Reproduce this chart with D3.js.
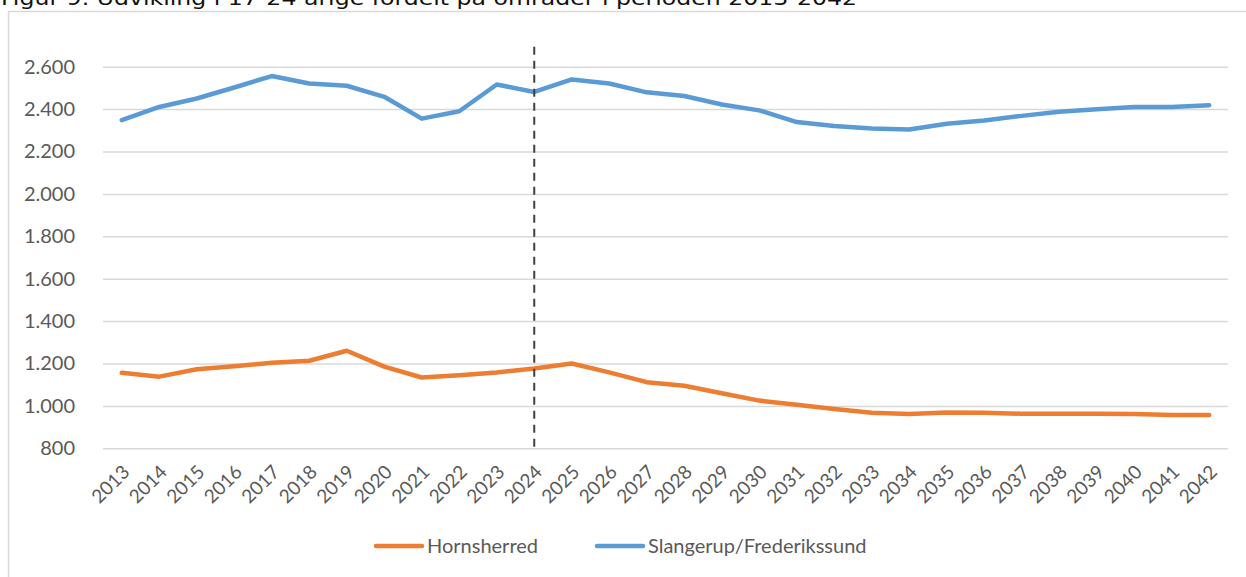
<!DOCTYPE html>
<html>
<head>
<meta charset="utf-8">
<script src="https://cdn.jsdelivr.net/npm/d3@7"></script>
<style>
  body { margin: 0; background: #fff; }
  svg { display: block; }
</style>
</head>
<body>
<svg id="chart" width="1246" height="577"></svg>
<script>
var years = ["2013","2014","2015","2016","2017","2018","2019","2020","2021","2022",
             "2023","2024","2025","2026","2027","2028","2029","2030","2031","2032",
             "2033","2034","2035","2036","2037","2038","2039","2040","2041","2042"]

var hornsherred = [1156,1138,1173,1187,1203,1213,1260,1185,1134,1145,
                   1158,1176,1200,1158,1112,1095,1060,1025,1005,985,
                   968,962,969,968,963,963,963,962,957,957]

var slangerup = [2348,2410,2450,2502,2556,2521,2510,2458,2355,2390,
                 2516,2481,2540,2521,2479,2462,2422,2394,2339,2320,
                 2308,2304,2331,2346,2368,2387,2399,2410,2410,2418]

var yTicks = [800,1000,1200,1400,1600,1800,2000,2200,2400,2600]
var seriesNames = ["Hornsherred", "Slangerup/Frederikssund"]
var seriesColors = ["#ed7d31", "#5b9bd5"]
var markerYear = "2024"
var title = "Figur 9. Udvikling i 17-24 årige fordelt på områder i perioden 2013-2042"

var series = [
    {name: seriesNames[0], color: seriesColors[0], values: hornsherred},
    {name: seriesNames[1], color: seriesColors[1], values: slangerup}
]

const plotLeft = 103, plotRight = 1228, plotTop = 66.7, plotBottom = 448.3
const labelFont = "Lato, 'Open Sans', sans-serif"

var svg = d3.select("#chart")

// outer frame of the chart object (runs off the page right and bottom)
svg.append("rect")
    .attr("x", 8.5).attr("y", 11.5)
    .attr("width", 1300).attr("height", 700)
    .attr("fill", "none")
    .attr("stroke", "#d9d9d9")
    .attr("stroke-width", 1.5)

// caption, cut off at the top of the page
svg.append("text")
    .attr("x", 1).attr("y", 5)
    .attr("font-family", "'DejaVu Sans', Verdana, sans-serif")
    .attr("font-size", 20)
    .attr("fill", "#111")
    .attr("textLength", 856)
    .attr("lengthAdjust", "spacingAndGlyphs")
    .text(title)

var x = d3.scalePoint()
    .domain(years)
    .range([plotLeft, plotRight])
    .padding(0.5)

var y = d3.scaleLinear()
    .domain([d3.min(yTicks), d3.max(yTicks)])
    .range([plotBottom, plotTop])

var dk = d3.formatLocale({decimal: ",", thousands: ".", grouping: [3], currency: ["", " kr."]})

// gridlines + y labels
var yAxis = svg.append("g")
    .attr("transform", `translate(${plotLeft},0)`)
    .call(d3.axisLeft(y)
        .tickValues(yTicks)
        .tickSize(-(plotRight - plotLeft))
        .tickPadding(28)
        .tickFormat(dk.format(",d")))

yAxis.select(".domain").remove()
yAxis.selectAll(".tick line")
    .attr("stroke", "#d9d9d9")
    .attr("stroke-width", 1.5)
yAxis.selectAll(".tick text")
    .attr("fill", "#595959")
    .attr("font-family", labelFont)
    .attr("font-size", 20)

// rotated year labels
svg.append("g")
    .selectAll("text")
    .data(years)
    .enter()
    .append("text")
    .attr("transform", d => `translate(${x(d) + 9},${plotBottom + 25}) rotate(-45)`)
    .attr("text-anchor", "end")
    .attr("fill", "#595959")
    .attr("font-family", labelFont)
    .attr("font-size", 19)
    .text(d => d)

var line = d3.line()
    .x((d, i) => x(years[i]))
    .y(d => y(d))

svg.append("g")
    .selectAll("path")
    .data(series)
    .enter()
    .append("path")
    .attr("d", d => line(d.values))
    .attr("fill", "none")
    .attr("stroke", d => d.color)
    .attr("stroke-width", 4.5)
    .attr("stroke-linejoin", "round")
    .attr("stroke-linecap", "round")

// dashed marker at the forecast start
svg.append("line")
    .attr("x1", x(markerYear)).attr("x2", x(markerYear))
    .attr("y1", plotTop - 20).attr("y2", plotBottom)
    .attr("stroke", "#404040")
    .attr("stroke-width", 2)
    .attr("stroke-dasharray", "8,6")

// legend
var legend = svg.append("g")
    .selectAll("g")
    .data(series)
    .enter()
    .append("g")
    .attr("transform", (d, i) => `translate(${376 + i * 221},546)`)

legend.append("line")
    .attr("x1", 0).attr("x2", 46)
    .attr("stroke", d => d.color)
    .attr("stroke-width", 4.5)
    .attr("stroke-linecap", "round")

legend.append("text")
    .attr("x", 51).attr("y", 7)
    .attr("fill", "#595959")
    .attr("font-family", labelFont)
    .attr("font-size", 20)
    .text(d => d.name)
</script>
</body>
</html>
